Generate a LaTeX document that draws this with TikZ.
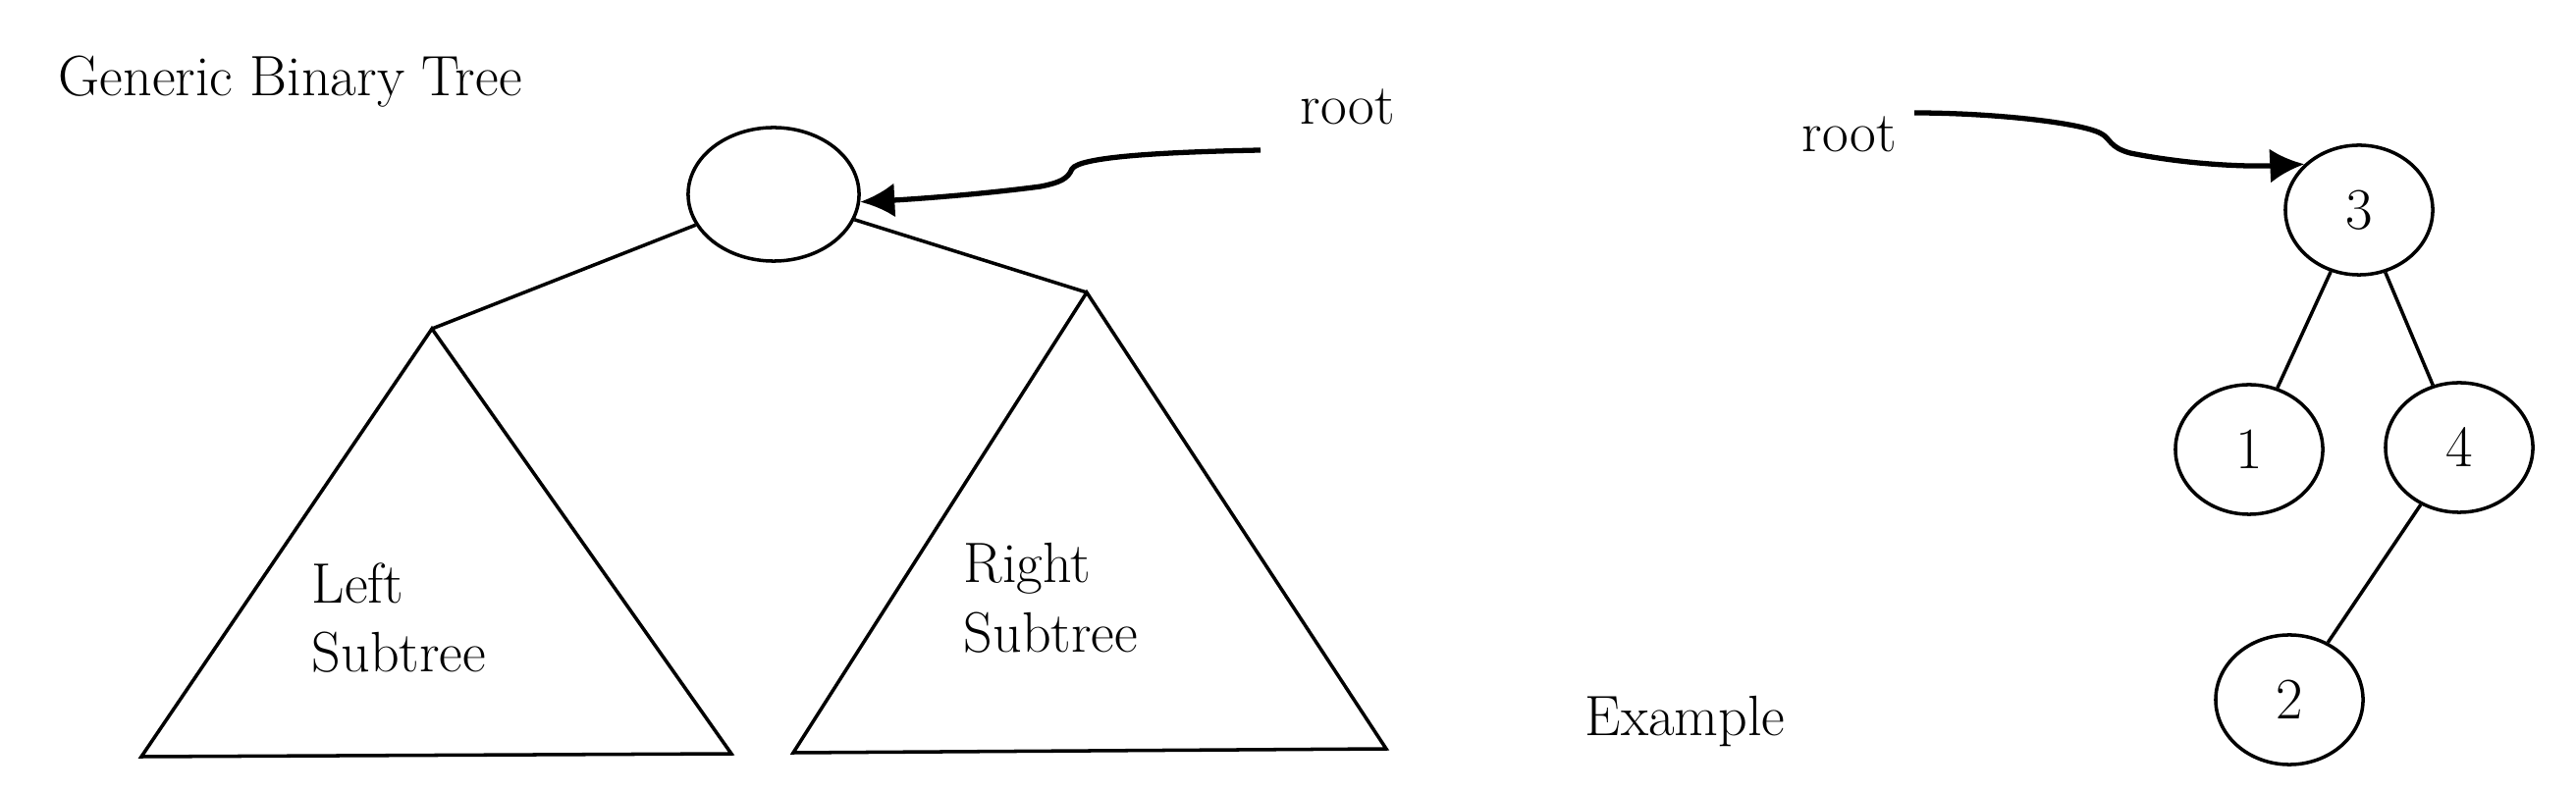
\documentclass[tikz,border=0pt]{standalone}
\usetikzlibrary{arrows.meta,shapes.geometric}
\begin{document}
\begin{tikzpicture}[x=0.01cm,y=-0.01cm,
    every node/.style={font=\fontsize{16.5}{20}\selectfont},
    vertex/.style={draw,ellipse,line width=1pt,minimum width=1.5cm,minimum height=1.32cm,
      inner sep=0pt,font=\fontsize{17}{20}\selectfont},
    edge/.style={line width=1pt},
    pointer/.style={line width=1.5pt,-{Latex[length=0.35cm,width=0.35cm]}}]
  \useasboundingbox (0,0) rectangle (2624,807);
  % generic tree
  \node[anchor=base west,inner sep=0] (title) at (59,98) {Generic Binary Tree};
  \node[vertex,minimum width=1.74cm,minimum height=1.36cm] (root) at (788,198) {};
  \node[anchor=base west,inner sep=0] (rootlbl) at (1324,127) {root};
  \coordinate (rootptr) at (1284,153);
  \draw[pointer] (rootptr) .. controls (1180,155) and (1100,160) .. (1092,172)
    .. controls (1088,182) and (1080,186) .. (1060,190)
    .. controls (1000,198) and (930,203) .. (root.-5);
  \coordinate (lapex) at (440,335);
  \coordinate (lbl) at (144,771);
  \coordinate (lbr) at (745,768);
  \coordinate (rapex) at (1107,298);
  \coordinate (rbl) at (808,767);
  \coordinate (rbr) at (1412,763);
  \draw[edge] (root) -- (lapex);
  \draw[edge] (root) -- (rapex);
  \draw[edge] (lapex) -- (lbl) -- (lbr) -- cycle;
  \draw[edge] (rapex) -- (rbl) -- (rbr) -- cycle;
  \node[anchor=north west,inner sep=0,align=left] (lsub) at (317,573) {Left\\Subtree};
  \node[anchor=north west,inner sep=0,align=left] (rsub) at (981,553) {Right\\Subtree};
  % example
  \node[anchor=base west,inner sep=0] (example) at (1614,749) {Example};
  \node[anchor=base west,inner sep=0] (rootlbl2) at (1835,155) {root};
  \node[vertex] (n3) at (2403,214) {3};
  \node[vertex] (n1) at (2291,458) {1};
  \node[vertex] (n4) at (2505,456) {4};
  \node[vertex] (n2) at (2332,713) {2};
  \foreach \a/\b in {n3/n1,n3/n4,n4/n2}
    \draw[edge] (\a) -- (\b);
  \coordinate (rootptr2) at (1950,115);
  \draw[pointer] (rootptr2) .. controls (2030,115) and (2120,125) .. (2140,136)
    .. controls (2150,141) and (2148,150) .. (2170,156)
    .. controls (2230,168) and (2290,170) .. (n3.140);
\end{tikzpicture}
\end{document}
